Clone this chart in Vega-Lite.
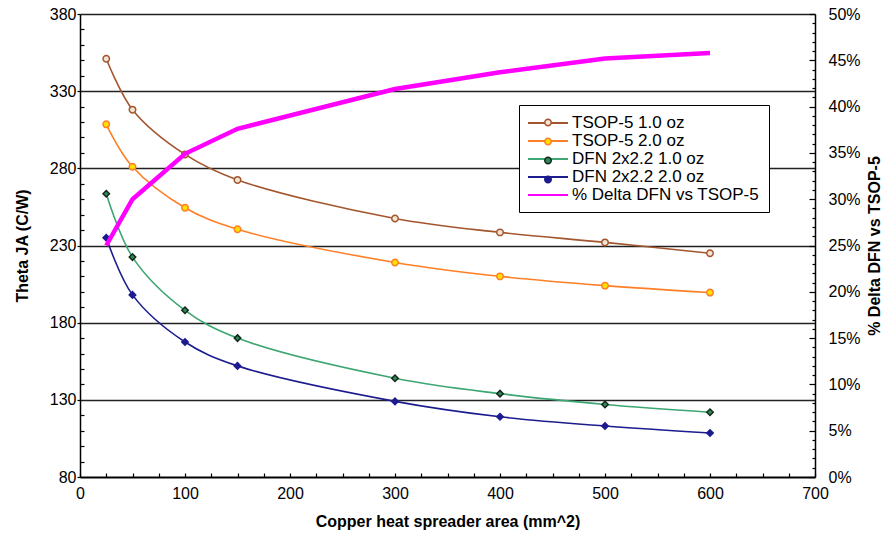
{
  "$schema": "https://vega.github.io/schema/vega-lite/v6.json",
  "width": 735,
  "height": 463,
  "autosize": {"type": "none"},
  "padding": {"left": 80, "top": 14, "right": 70, "bottom": 58},
  "background": "white",
  "config": {
    "view": {"stroke": null},
    "font": "Liberation Sans",
    "axis": {
      "labelFont": "Liberation Sans",
      "titleFont": "Liberation Sans",
      "labelFontSize": 16,
      "titleFontSize": 16,
      "titleFontWeight": "bold",
      "labelColor": "black",
      "titleColor": "black",
      "domainColor": "black",
      "tickColor": "black",
      "gridColor": "#222222",
      "labelOverlap": false,
      "labelBound": false,
      "labelFlush": false
    },
    "legend": {
      "labelFont": "Liberation Sans",
      "labelFontSize": 17,
      "labelColor": "black",
      "labelLimit": 400
    }
  },
  "data": {
    "values": [
      {"area": 25, "series": "TSOP-5 1.0 oz", "theta": 351},
      {"area": 50, "series": "TSOP-5 1.0 oz", "theta": 318},
      {"area": 100, "series": "TSOP-5 1.0 oz", "theta": 289},
      {"area": 150, "series": "TSOP-5 1.0 oz", "theta": 272.5},
      {"area": 300, "series": "TSOP-5 1.0 oz", "theta": 247.5},
      {"area": 400, "series": "TSOP-5 1.0 oz", "theta": 238.5},
      {"area": 500, "series": "TSOP-5 1.0 oz", "theta": 232},
      {"area": 600, "series": "TSOP-5 1.0 oz", "theta": 225},
      {"area": 25, "series": "TSOP-5 2.0 oz", "theta": 308.5},
      {"area": 50, "series": "TSOP-5 2.0 oz", "theta": 281},
      {"area": 100, "series": "TSOP-5 2.0 oz", "theta": 254.5},
      {"area": 150, "series": "TSOP-5 2.0 oz", "theta": 240.5},
      {"area": 300, "series": "TSOP-5 2.0 oz", "theta": 219},
      {"area": 400, "series": "TSOP-5 2.0 oz", "theta": 210},
      {"area": 500, "series": "TSOP-5 2.0 oz", "theta": 204},
      {"area": 600, "series": "TSOP-5 2.0 oz", "theta": 199.5},
      {"area": 25, "series": "DFN 2x2.2 1.0 oz", "theta": 263.5},
      {"area": 50, "series": "DFN 2x2.2 1.0 oz", "theta": 222.5},
      {"area": 100, "series": "DFN 2x2.2 1.0 oz", "theta": 188},
      {"area": 150, "series": "DFN 2x2.2 1.0 oz", "theta": 170},
      {"area": 300, "series": "DFN 2x2.2 1.0 oz", "theta": 144},
      {"area": 400, "series": "DFN 2x2.2 1.0 oz", "theta": 134},
      {"area": 500, "series": "DFN 2x2.2 1.0 oz", "theta": 127},
      {"area": 600, "series": "DFN 2x2.2 1.0 oz", "theta": 122},
      {"area": 25, "series": "DFN 2x2.2 2.0 oz", "theta": 235},
      {"area": 50, "series": "DFN 2x2.2 2.0 oz", "theta": 198},
      {"area": 100, "series": "DFN 2x2.2 2.0 oz", "theta": 167.5},
      {"area": 150, "series": "DFN 2x2.2 2.0 oz", "theta": 152},
      {"area": 300, "series": "DFN 2x2.2 2.0 oz", "theta": 129},
      {"area": 400, "series": "DFN 2x2.2 2.0 oz", "theta": 119},
      {"area": 500, "series": "DFN 2x2.2 2.0 oz", "theta": 113},
      {"area": 600, "series": "DFN 2x2.2 2.0 oz", "theta": 108.5},
      {"area": 25, "series": "% Delta DFN vs TSOP-5", "pct": 0.25},
      {"area": 50, "series": "% Delta DFN vs TSOP-5", "pct": 0.30},
      {"area": 100, "series": "% Delta DFN vs TSOP-5", "pct": 0.349},
      {"area": 150, "series": "% Delta DFN vs TSOP-5", "pct": 0.376},
      {"area": 300, "series": "% Delta DFN vs TSOP-5", "pct": 0.419},
      {"area": 400, "series": "% Delta DFN vs TSOP-5", "pct": 0.437},
      {"area": 500, "series": "% Delta DFN vs TSOP-5", "pct": 0.452},
      {"area": 600, "series": "% Delta DFN vs TSOP-5", "pct": 0.458}
    ]
  },
  "encoding": {
    "x": {
      "field": "area",
      "type": "quantitative",
      "scale": {"domain": [0, 700], "nice": false, "zero": false},
      "axis": {
        "title": "Copper heat spreader area (mm^2)",
        "values": [0, 25, 50, 75, 100, 125, 150, 175, 200, 225, 250, 275, 300, 325, 350, 375, 400, 425, 450, 475, 500, 525, 550, 575, 600, 625, 650, 675, 700],
        "labelExpr": "datum.value % 100 === 0 ? datum.label : ''",
        "grid": false,
        "tickSize": -4,
        "tickWidth": 1.2,
        "labelPadding": 12,
        "domainWidth": 2,
        "titlePadding": 12
      }
    }
  },
  "layer": [
    {
      "transform": [{"filter": {"field": "series", "oneOf": ["TSOP-5 1.0 oz", "TSOP-5 2.0 oz", "DFN 2x2.2 1.0 oz", "DFN 2x2.2 2.0 oz"]}}],
      "mark": {"type": "line", "interpolate": "catmull-rom", "strokeWidth": 1.6},
      "encoding": {
        "y": {
          "field": "theta",
          "type": "quantitative",
          "scale": {"domain": [80, 380], "nice": false, "zero": false},
          "axis": {
            "title": "Theta JA (C/W)",
            "values": [80, 90, 100, 110, 120, 130, 140, 150, 160, 170, 180, 190, 200, 210, 220, 230, 240, 250, 260, 270, 280, 290, 300, 310, 320, 330, 340, 350, 360, 370, 380],
            "labelExpr": "(datum.value - 80) % 50 === 0 ? datum.label : ''",
            "grid": true,
            "gridOpacity": {"condition": {"test": "(datum.value - 80) % 50 === 0 && datum.value > 80", "value": 1}, "value": 0},
            "gridWidth": 1.6,
            "tickSize": {"condition": {"test": "(datum.value - 80) % 50 === 0", "value": 3}, "value": -4},
            "tickWidth": 1.2,
            "labelPadding": 1,
            "domainWidth": 1.5,
            "titlePadding": 19
          }
        },
        "color": {
          "field": "series",
          "type": "nominal",
          "scale": {
            "domain": ["TSOP-5 1.0 oz", "TSOP-5 2.0 oz", "DFN 2x2.2 1.0 oz", "DFN 2x2.2 2.0 oz", "% Delta DFN vs TSOP-5"],
            "range": ["#A3562E", "#FF7F27", "#3DA673", "#1C1C8F", "#FF00FF"]
          },
          "legend": {
            "title": null,
            "orient": "none",
            "legendX": 439,
            "legendY": 91,
            "fillColor": "white",
            "strokeColor": "black",
            "padding": 9,
            "rowPadding": 1,
            "labelOffset": 26,
            "symbolSize": 256,
            "symbolType": "M-1.125,0L3.875,0",
            "symbolStrokeWidth": 1.8,
            "encoding": {
              "symbols": {
                "strokeWidth": {"signal": "datum.value === '% Delta DFN vs TSOP-5' ? 4.5 : 1.8"}
              }
            }
          }
        }
      }
    },
    {
      "transform": [{"filter": {"field": "series", "oneOf": ["TSOP-5 1.0 oz", "TSOP-5 2.0 oz", "DFN 2x2.2 1.0 oz", "DFN 2x2.2 2.0 oz"]}}],
      "mark": {"type": "point", "filled": true, "strokeWidth": 1.5, "size": 42, "opacity": 1},
      "encoding": {
        "y": {
          "field": "theta",
          "type": "quantitative",
          "scale": {"domain": [80, 380], "nice": false, "zero": false},
          "axis": null
        },
        "shape": {
          "field": "series",
          "type": "nominal",
          "scale": {"domain": ["TSOP-5 1.0 oz", "TSOP-5 2.0 oz", "DFN 2x2.2 1.0 oz", "DFN 2x2.2 2.0 oz"], "range": ["circle", "circle", "diamond", "diamond"]},
          "legend": {"title": null, "orient": "none", "legendX": 439, "legendY": 91, "padding": 9, "rowPadding": 1, "labelOffset": 26, "labelExpr": "''", "symbolSize": 42, "symbolStrokeWidth": 1.5, "symbolOffset": 11.5}
        },
        "fill": {
          "field": "series",
          "type": "nominal",
          "scale": {"domain": ["TSOP-5 1.0 oz", "TSOP-5 2.0 oz", "DFN 2x2.2 1.0 oz", "DFN 2x2.2 2.0 oz"], "range": ["#F3E3D3", "#FFE000", "#2E8B57", "#1C1C8F"]},
          "legend": {"title": null, "orient": "none", "legendX": 439, "legendY": 91, "padding": 9, "rowPadding": 1, "labelOffset": 26, "labelExpr": "''", "symbolSize": 42, "symbolStrokeWidth": 1.5, "symbolOffset": 11.5}
        },
        "stroke": {
          "field": "series",
          "type": "nominal",
          "scale": {"domain": ["TSOP-5 1.0 oz", "TSOP-5 2.0 oz", "DFN 2x2.2 1.0 oz", "DFN 2x2.2 2.0 oz"], "range": ["#A3562E", "#FF7F27", "#14281C", "#1C1C8F"]},
          "legend": {"title": null, "orient": "none", "legendX": 439, "legendY": 91, "padding": 9, "rowPadding": 1, "labelOffset": 26, "labelExpr": "''", "symbolSize": 42, "symbolStrokeWidth": 1.5, "symbolOffset": 11.5}
        }
      }
    },
    {
      "transform": [{"filter": {"field": "series", "equal": "% Delta DFN vs TSOP-5"}}],
      "mark": {"type": "line", "strokeWidth": 4.5},
      "encoding": {
        "y": {
          "field": "pct",
          "type": "quantitative",
          "scale": {"domain": [0, 0.5], "nice": false},
          "axis": {
            "orient": "right",
            "title": "% Delta DFN vs TSOP-5",
            "titleAngle": -90,
            "titleBaseline": "top",
            "titlePadding": 6,
            "values": [0, 0.01, 0.02, 0.03, 0.04, 0.05, 0.06, 0.07, 0.08, 0.09, 0.1, 0.11, 0.12, 0.13, 0.14, 0.15, 0.16, 0.17, 0.18, 0.19, 0.2, 0.21, 0.22, 0.23, 0.24, 0.25, 0.26, 0.27, 0.28, 0.29, 0.3, 0.31, 0.32, 0.33, 0.34, 0.35, 0.36, 0.37, 0.38, 0.39, 0.4, 0.41, 0.42, 0.43, 0.44, 0.45, 0.46, 0.47, 0.48, 0.49, 0.5],
            "labelExpr": "round(datum.value * 100) % 5 === 0 ? round(datum.value * 100) + '%' : ''",
            "grid": false,
            "tickSize": {"condition": {"test": "round(datum.value * 100) % 5 === 0", "value": -6}, "value": -3},
            "tickWidth": 1.2,
            "labelPadding": 19,
            "domainWidth": 1.5
          }
        },
        "color": {"field": "series", "type": "nominal"}
      }
    }
  ],
  "resolve": {"scale": {"y": "independent", "fill": "independent", "stroke": "independent"}}
}
